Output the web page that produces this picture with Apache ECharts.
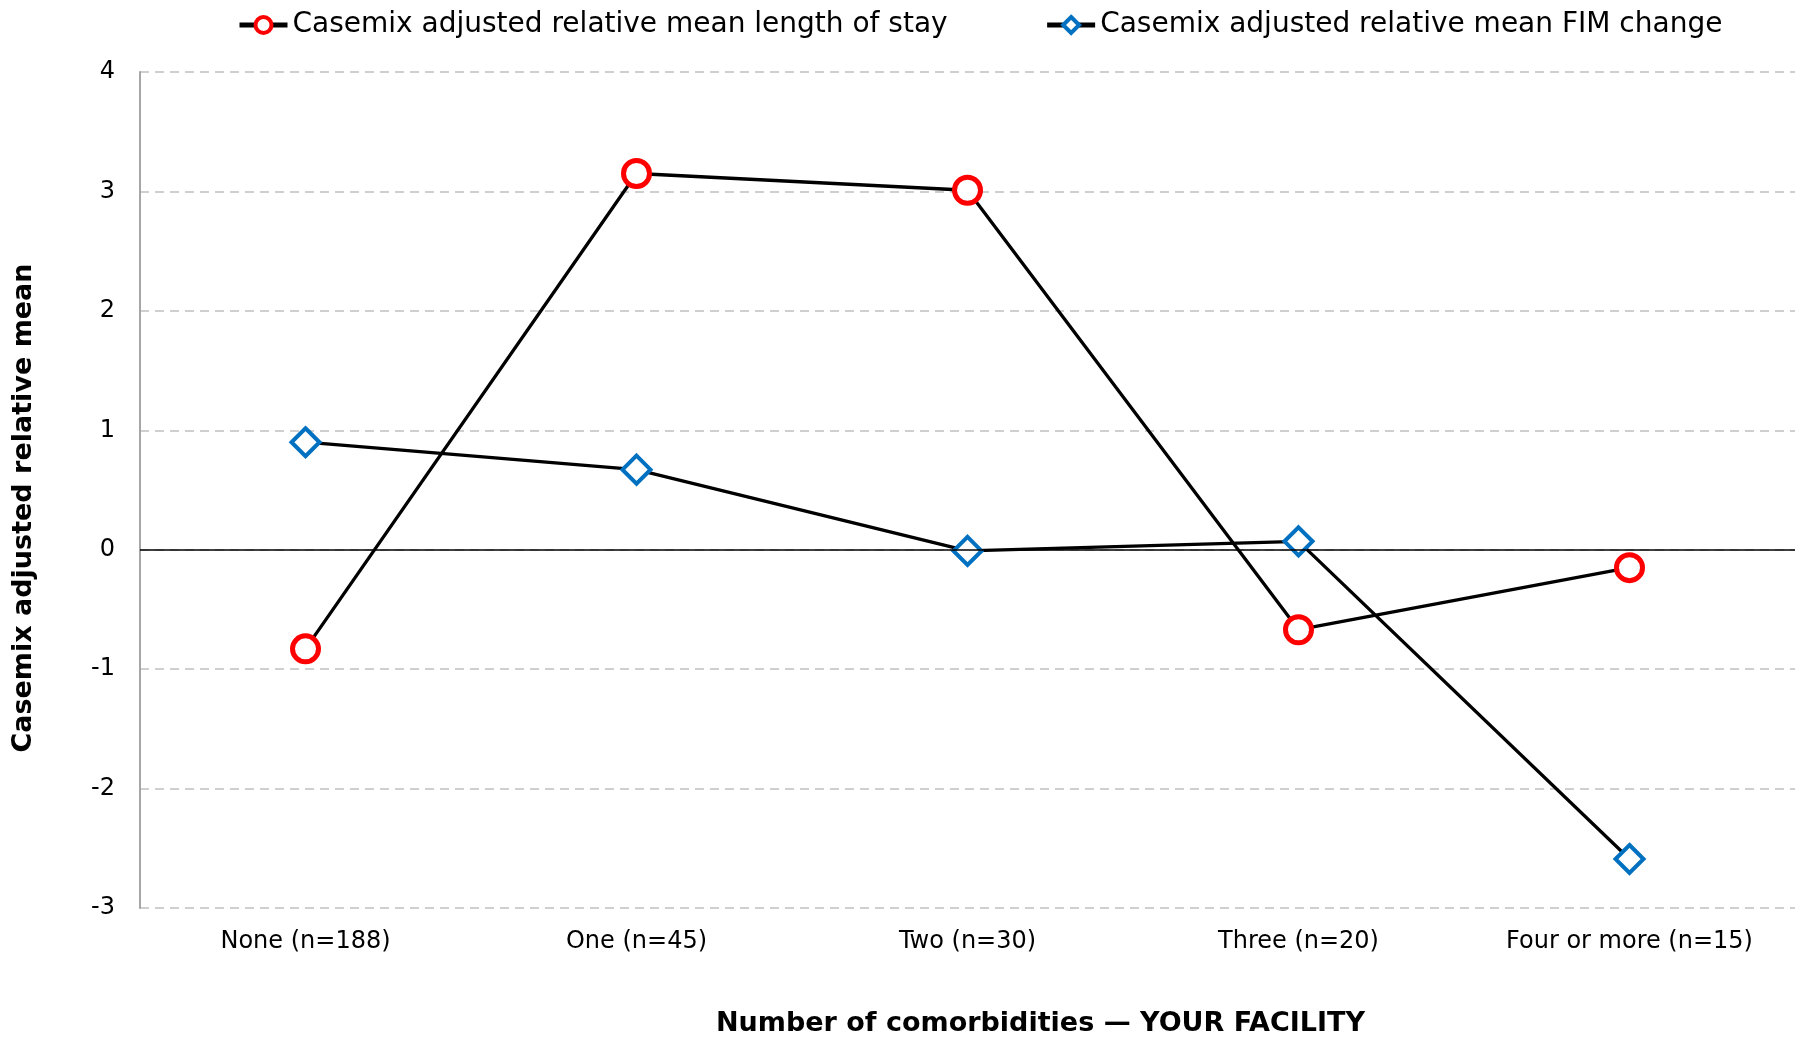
<!DOCTYPE html>
<html>
<head>
<meta charset="utf-8">
<script src="https://cdn.jsdelivr.net/npm/echarts@6/dist/echarts.min.js"></script>
<style>
  html, body { margin: 0; padding: 0; background: #fff; }
  #chart { width: 1796px; height: 1038px; }
</style>
</head>
<body>
<div id="chart"></div>
<script>
var categories = ["None (n=188)", "One (n=45)", "Two (n=30)", "Three (n=20)", "Four or more (n=15)"];
var losValues = [-0.83, 3.15, 3.01, -0.67, -0.15];
var fimValues = [0.90, 0.67, -0.01, 0.07, -2.59];
var seriesNames = ["Casemix adjusted relative mean length of stay", "Casemix adjusted relative mean FIM change"];

var FONT = "DejaVu Sans";

var chart = echarts.init(document.getElementById("chart"));

var option = {
    animation: false,
    textStyle: { fontFamily: FONT, color: "#000" },
    legend: {
        top: 6,
        left: 232,
        itemGap: 97,
        itemWidth: 48,
        itemHeight: 20,
        lineStyle: { width: 5 },
        itemStyle: { borderWidth: 4 },
        textStyle: { fontFamily: FONT, fontSize: 28, color: "#000" },
        data: seriesNames
    },
    grid: {
        left: 140,
        right: 1,
        top: 72,
        bottom: 130,
        containLabel: false,
        outerBoundsMode: "none"
    },
    xAxis: {
        type: "category",
        data: categories,
        boundaryGap: true,
        axisLine: { show: false },
        axisTick: { show: false },
        axisLabel: { fontSize: 24, color: "#000", margin: 22, fontFamily: FONT, interval: 0 },
        name: "Number of comorbidities \u2014 YOUR FACILITY",
        nameLocation: "middle",
        nameGap: 102,
        nameTextStyle: { fontSize: 27, fontWeight: "bold", color: "#000", fontFamily: FONT, padding: [0, 0, 0, 146] }
    },
    yAxis: {
        type: "value",
        min: -3,
        max: 4,
        interval: 1,
        axisLine: { show: true, lineStyle: { color: "#a6a6a6", width: 2 } },
        axisTick: { show: false },
        axisLabel: { fontSize: 24, color: "#000", margin: 25, fontFamily: FONT },
        splitLine: { show: true, lineStyle: { color: "#c0c0c0", width: 1.5, type: [9, 6] } },
        name: "Casemix adjusted relative mean",
        nameLocation: "middle",
        nameGap: 103,
        nameTextStyle: { fontSize: 27, fontWeight: "bold", color: "#000", fontFamily: FONT, padding: [0, 36, 0, 0] }
    },
    series: [
        {
            name: seriesNames[0],
            type: "line",
            data: losValues,
            symbol: "circle",
            symbolSize: 26,
            z: 3,
            lineStyle: { color: "#000", width: 3.3 },
            itemStyle: { color: "#fff", borderColor: "#ff0000", borderWidth: 5 },
            markLine: {
                silent: true,
                symbol: "none",
                label: { show: false },
                lineStyle: { color: "#000", width: 1.5, type: "solid" },
                data: [{ yAxis: 0 }]
            }
        },
        {
            name: seriesNames[1],
            type: "line",
            data: fimValues,
            symbol: "diamond",
            symbolSize: 28,
            z: 3,
            lineStyle: { color: "#000", width: 3.3 },
            itemStyle: { color: "#fff", borderColor: "#0070c0", borderWidth: 4 }
        }
    ]
};

chart.setOption(option);
</script>
</body>
</html>
